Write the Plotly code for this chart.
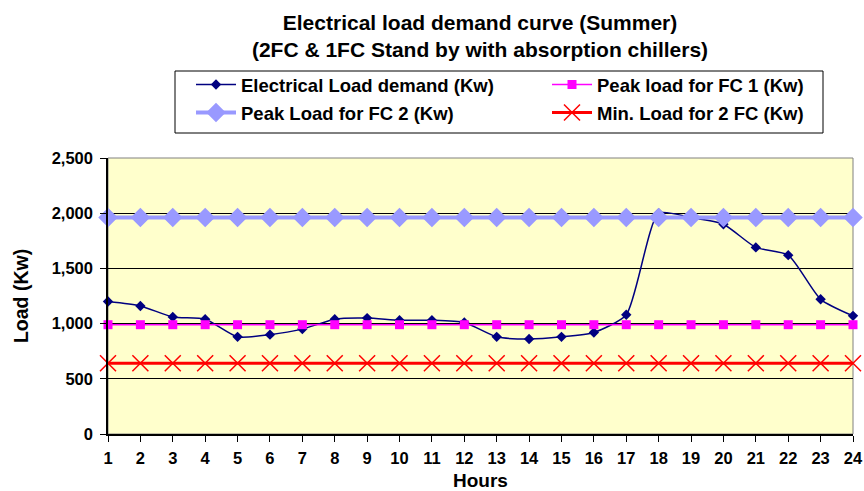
import plotly.graph_objects as go

hours = list(range(1, 25))
electrical_load = [1200, 1160, 1060, 1040, 880, 900, 950, 1040, 1050, 1030, 1030, 1010,
                   880, 860, 880, 920, 1080, 2000, 1960, 1900, 1690, 1620, 1220, 1070]
peak_fc1 = [990] * 24
peak_fc2 = [1960] * 24
min_2fc = [640] * 24

y_ticks = [0, 500, 1000, 1500, 2000, 2500]

FONT = "Liberation Sans, Arial, sans-serif"

# plot area in pixels (used to place the legend frame in paper coordinates)
W, H = 864, 491
L, R, T, B = 108, 11, 158, 57
PW, PH = W - L - R, H - T - B


def px_to_paper_x(px):
    return (px - L) / PW


def px_to_paper_y(py):
    return (H - B - py) / PH


fig = go.Figure()

fig.add_trace(go.Scatter(
    x=hours, y=electrical_load, name="Electrical Load demand (Kw)", legend="legend",
    mode="lines+markers", line=dict(color="#000080", width=1.5, shape="spline", smoothing=0.6),
    marker=dict(symbol="diamond", size=8, color="#000080"), cliponaxis=False))
fig.add_trace(go.Scatter(
    x=hours, y=peak_fc1, name="Peak load for FC 1 (Kw)", legend="legend",
    mode="lines+markers", line=dict(color="#FF00FF", width=1.5),
    marker=dict(symbol="square", size=9, color="#FF00FF"), cliponaxis=False))
fig.add_trace(go.Scatter(
    x=hours, y=peak_fc2, name="Peak Load for FC 2 (Kw)", legend="legend2",
    mode="lines+markers", line=dict(color="#9999FF", width=4),
    marker=dict(symbol="diamond", size=15, color="#9999FF"), cliponaxis=False))
fig.add_trace(go.Scatter(
    x=hours, y=min_2fc, name="Min. Load for 2 FC (Kw)", legend="legend2",
    mode="lines+markers", line=dict(color="#FF0000", width=3),
    marker=dict(symbol="x-thin", size=16, line=dict(color="#FF0000", width=1.5)),
    cliponaxis=False))

# grey frame around the plotting area
fig.add_shape(type="rect", xref="paper", yref="paper", x0=0, y0=0, x1=1, y1=1,
              line=dict(color="#808080", width=1), layer="below")
# frame around the two legend rows
fig.add_shape(type="rect", xref="paper", yref="paper",
              x0=px_to_paper_x(175), x1=px_to_paper_x(823),
              y0=px_to_paper_y(133), y1=px_to_paper_y(71),
              line=dict(color="black", width=1), fillcolor="rgba(0,0,0,0)")

legend_common = dict(
    orientation="h", xref="container", yref="container",
    xanchor="left", yanchor="top",
    entrywidth=301, entrywidthmode="pixels",
    borderwidth=0, bgcolor="rgba(0,0,0,0)",
    font=dict(family=FONT, size=18.5, color="black", weight="bold"),
    itemwidth=40,
)

fig.update_layout(
    width=W, height=H,
    margin=dict(l=L, r=R, t=T, b=B, autoexpand=False),
    paper_bgcolor="white", plot_bgcolor="#FFFFCC",
    font=dict(family=FONT, size=16, color="black"),
    title=dict(
        text="Electrical load demand curve (Summer)<br>(2FC & 1FC Stand by with absorption chillers)",
        xref="container", yref="container",
        x=480 / W, xanchor="center", y=1 - 30 / H, yanchor="middle",
        font=dict(family=FONT, size=21, color="black", weight="bold")),
    legend=dict(x=191 / W, y=1 - 66 / H, **legend_common),
    legend2=dict(x=191 / W, y=1 - 94 / H, **legend_common),
    showlegend=True,
)

fig.update_xaxes(
    range=[1, 24], tickvals=hours, ticks="outside", ticklen=6, tickcolor="black",
    showline=True, linecolor="black", linewidth=1.5, showgrid=False, zeroline=False,
    automargin=False, ticklabelstandoff=2,
    tickfont=dict(family=FONT, size=16.5, color="black", weight="bold"),
    title=dict(text="Hours", font=dict(family=FONT, size=19, weight="bold"), standoff=10))
fig.update_yaxes(
    range=[0, 2500], tickvals=y_ticks, tickformat=",", ticks="outside", ticklen=6,
    tickcolor="black", showline=True, linecolor="black", linewidth=1.5,
    showgrid=True, gridcolor="black", gridwidth=1, zeroline=False,
    automargin=False, ticklabelstandoff=4,
    tickfont=dict(family=FONT, size=16.5, color="black", weight="bold"),
    title=dict(text="Load (Kw)", font=dict(family=FONT, size=19.5, weight="bold"), standoff=18))

fig.write_html("out.html")
